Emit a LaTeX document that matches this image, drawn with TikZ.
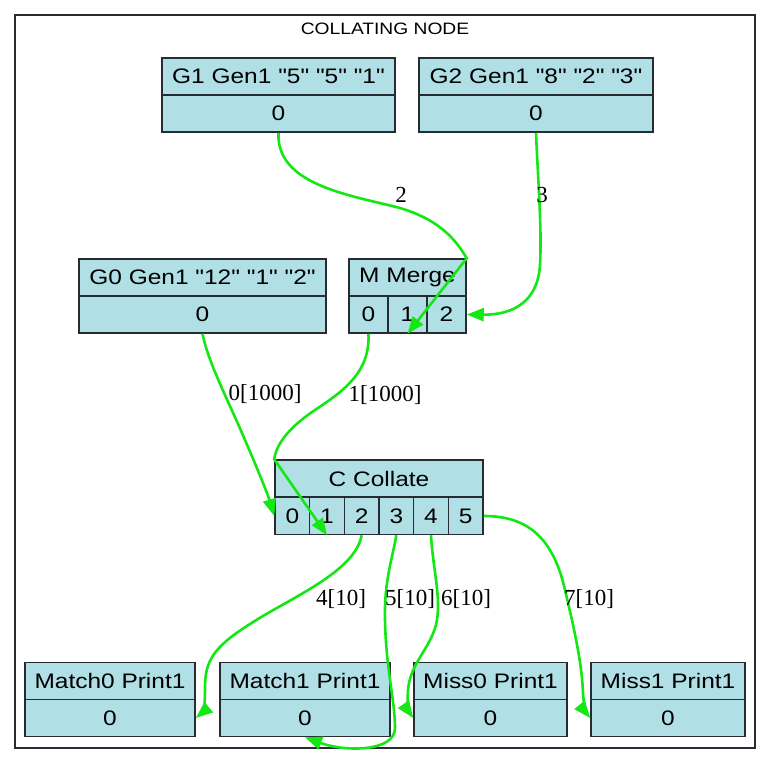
\documentclass[tikz,border=0pt]{standalone}
\usepackage{fontspec}
\setmainfont{Liberation Serif}
\newfontfamily\nodefont[FakeStretch=1.165]{Liberation Sans}
\usetikzlibrary{arrows.meta}
\definecolor{powder}{RGB}{176,224,230}
\definecolor{edgegreen}{RGB}{20,232,20}
\definecolor{border}{RGB}{38,44,50}
\tikzset{
  box/.style={draw=border, fill=powder, line width=1.5pt, inner sep=0pt, minimum height=37pt,
    font=\nodefont\fontsize{21}{25}\selectfont},
  edge/.style={draw=edgegreen, line width=2.6pt, -{Triangle[length=17pt,width=13pt]}},
  elabel/.style={font=\fontsize{23}{26}\selectfont, inner sep=0pt},
  cluster/.style={draw=border, line width=1.6pt},
  ctitle/.style={font=\nodefont\fontsize{16.5}{20}\selectfont, inner sep=0pt}
}
\begin{document}
\begin{tikzpicture}[x=1pt,y=-1pt]
\useasboundingbox (0,0) rectangle (772,764);
\fill[white] (0,0) rectangle (772,764);
\draw[cluster] (15,15) rectangle (755,748);
\node[ctitle] (title) at (385,29) {COLLATING NODE};

% G1
\node[box, minimum width=233pt] (G1) at (278.5,76.5) {G1 Gen1 "5" "5" "1"};
\node[box, minimum width=233pt] (G1p0) at (278.5,113.5) {0};
% G2
\node[box, minimum width=234pt] (G2) at (536,76.5) {G2 Gen1 "8" "2" "3"};
\node[box, minimum width=234pt] (G2p0) at (536,113.5) {0};
% G0
\node[box, minimum width=247pt] (G0) at (202.5,277.5) {G0 Gen1 "12" "1" "2"};
\node[box, minimum width=247pt] (G0p0) at (202.5,314.5) {0};
% M
\node[box, minimum width=117pt] (M) at (407.5,277.5) {M Merge};
\node[box, minimum width=39pt] (Mp0) at (368.5,314.5) {0};
\node[box, minimum width=39pt] (Mp1) at (407.5,314.5) {1};
\node[box, minimum width=39pt] (Mp2) at (446.5,314.5) {2};
% C
\node[box, minimum width=208pt] (C) at (379,478.5) {C Collate};
\node[box, minimum width=34.67pt] (Cp0) at (292.33,516) {0};
\node[box, minimum width=34.67pt] (Cp1) at (327,516) {1};
\node[box, minimum width=34.67pt] (Cp2) at (361.67,516) {2};
\node[box, minimum width=34.67pt] (Cp3) at (396.33,516) {3};
\node[box, minimum width=34.67pt] (Cp4) at (431,516) {4};
\node[box, minimum width=34.67pt] (Cp5) at (465.67,516) {5};
% bottom row
\node[box, minimum width=170pt] (Ma0) at (110,681) {Match0 Print1};
\node[box, minimum width=170pt] (Ma0p0) at (110,718) {0};
\node[box, minimum width=170pt] (Ma1) at (305,681) {Match1 Print1};
\node[box, minimum width=170pt] (Ma1p0) at (305,718) {0};
\node[box, minimum width=153pt] (Mi0) at (490.5,681) {Miss0 Print1};
\node[box, minimum width=153pt] (Mi0p0) at (490.5,718) {0};
\node[box, minimum width=154pt] (Mi1) at (668,681) {Miss1 Print1};
\node[box, minimum width=154pt] (Mi1p0) at (668,718) {0};

% edges
\draw[edge] (G1p0.south) .. controls (276,185) and (350,195) .. (400,208)
  .. controls (440,220) and (456,240) .. (M.north east) -- (Mp1.south);
\draw[edge] (G2p0.south) .. controls (538,180) and (542,230) .. (540,265)
  .. controls (538,300) and (515,315) .. (Mp2.east);
\draw[edge] (G0p0.south) .. controls (208,362) and (228,400) .. (245,440)
  .. controls (258,470) and (268,495) .. (Cp0.west);
\draw[edge] (Mp0.south) .. controls (370,372) and (345,390) .. (315,410)
  .. controls (288,428) and (276,445) .. (C.north west) -- (Cp1.south);
\draw[edge] (Cp2.south) .. controls (355,572) and (290,598) .. (250,624)
  .. controls (212,648) and (205,662) .. (205,688)
  .. controls (205,704) and (203,712) .. (Ma0p0.east);
\draw[edge] (Cp3.south) .. controls (392,560) and (384,582) .. (385,620)
  .. controls (386,670) and (395,700) .. (395,728)
  .. controls (395,752) and (345,752) .. (Ma1p0.south);
\draw[edge] (Cp4.south) .. controls (433,570) and (442,600) .. (436,625)
  .. controls (429,650) and (410,664) .. (408,690)
  .. controls (407,704) and (409,712) .. (Mi0p0.west);
\draw[edge] (Cp5.east) .. controls (522,516) and (552,532) .. (565,590)
  .. controls (577,640) and (582,668) .. (583,693)
  .. controls (584,708) and (587,714) .. (Mi1p0.west);

% edge labels
\node[elabel] (l2) at (401,195) {2};
\node[elabel] (l3) at (542,195) {3};
\node[elabel] (l01000) at (265,394) {0[1000]};
\node[elabel] (l11000) at (385,395) {1[1000]};
\node[elabel] (l410) at (341,599) {4[10]};
\node[elabel] (l510) at (410,599) {5[10]};
\node[elabel] (l610) at (466,599) {6[10]};
\node[elabel] (l710) at (589,599) {7[10]};
\end{tikzpicture}
\end{document}
